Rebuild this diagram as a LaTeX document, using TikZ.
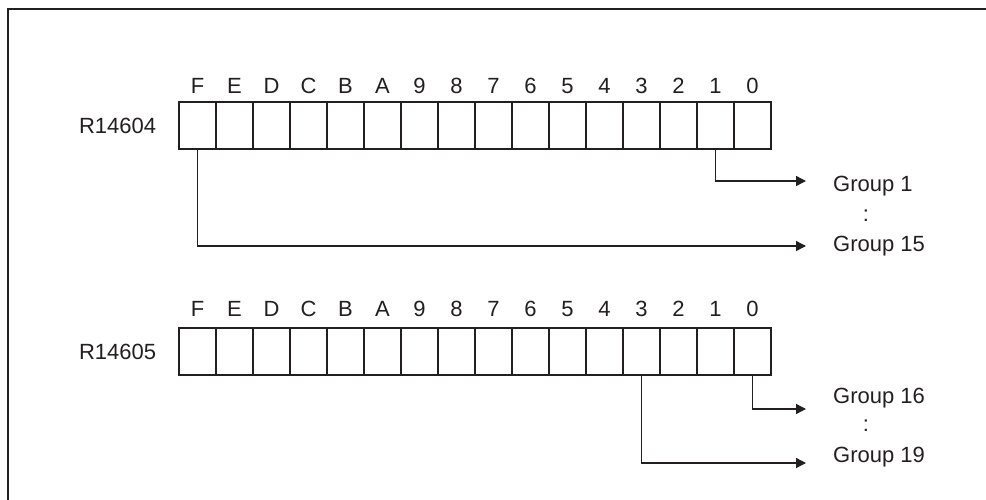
\documentclass[tikz,border=0pt]{standalone}
\usepackage{fontspec}
\setmainfont{Liberation Sans}
\usetikzlibrary{arrows.meta,positioning}
\definecolor{ink}{HTML}{231F20}

\begin{document}
\begin{tikzpicture}[
  x=1pt, y=-1pt,
  every node/.style={text=ink, font=\fontsize{22}{26}\selectfont},
  cell/.style={rectangle, draw=ink, line width=1.4pt, minimum width=37pt,
    minimum height=47pt, inner sep=0pt},
  bitlbl/.style={inner sep=0pt},
  reglbl/.style={inner sep=0pt},
  grplbl/.style={anchor=west, inner sep=0pt},
  frame/.style={draw=ink, line width=2pt},
  arr/.style={-{Triangle[length=10pt,width=10pt]}, line width=1.4pt, draw=ink},
]
\useasboundingbox (0,0) rectangle (986,499);
\draw[frame] (8,505) |- (992,9);
% register R14604
\foreach \b [count=\i from 0] in {F,E,D,C,B,A,9,8,7,6,5,4,3,2,1,0} {
  \node[cell] (ra\b) at (197.5+37*\i,125.5) {};
  \node[bitlbl] (la\b) at (197.5+37*\i,86) {\b};
}
\node[reglbl, left=22pt of raF] (rega) {R14604};
% register R14605
\foreach \b [count=\i from 0] in {F,E,D,C,B,A,9,8,7,6,5,4,3,2,1,0} {
  \node[cell] (rb\b) at (197.5+37*\i,351.5) {};
  \node[bitlbl] (lb\b) at (197.5+37*\i,309) {\b};
}
\node[reglbl, left=22pt of rbF] (regb) {R14605};
% groups
\node[grplbl] (g1) at (833,186) {Group 1};
\node[bitlbl] (d1) at (866,216) {:};
\node[grplbl] (g15) at (833,246) {Group 15};
\node[grplbl] (g16) at (833,398) {Group 16};
\node[bitlbl] (d2) at (866,426) {:};
\node[grplbl] (g19) at (833,457) {Group 19};
\coordinate (e1) at (806,181);
\coordinate (e15) at (806,246);
\coordinate (e16) at (806,409);
\coordinate (e19) at (806,463);
\draw[arr] (ra1.south) |- (e1);
\draw[arr] (raF.south) |- (e15);
\draw[arr] (rb0.south) |- (e16);
\draw[arr] (rb3.south) |- (e19);
\end{tikzpicture}
\end{document}
